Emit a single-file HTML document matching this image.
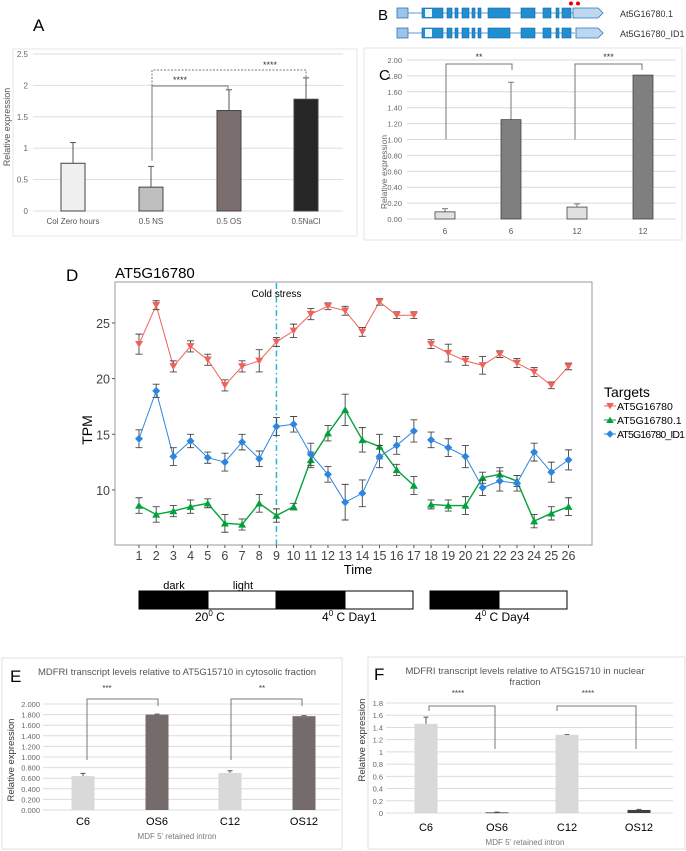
<!DOCTYPE html>
<html><head><meta charset="utf-8">
<style>
html,body{margin:0;padding:0;background:#fff;}
svg{display:block;font-family:"Liberation Sans",sans-serif;}
</style></head>
<body>
<svg id="fig" width="686" height="851" viewBox="0 0 686 851" xmlns="http://www.w3.org/2000/svg">
<g id="pA"></g>
<g id="pB"></g>
<g id="pC"></g>
<g id="pD"></g>
<g id="pE"></g>
<g id="pF"></g>
</svg>
<script>
// ---- Panel A data ----
const aCats = ["Col Zero hours","0.5 NS","0.5 OS","0.5NaCl"];
const aVals = [0.76,0.38,1.6,1.78];
const aErr = [0.33,0.33,0.33,0.34];
const aTicks = [0,0.5,1,1.5,2,2.5];
const aTickLabels = ["0","0.5","1","1.5","2","2.5"];
// ---- Panel C data ----
const cCats = ["6","6","12","12"];
const cVals = [0.09,1.25,0.15,1.81];
const cErr = [0.04,0.47,0.04,0.0];
const cTicks = [0,0.2,0.4,0.6,0.8,1.0,1.2,1.4,1.6,1.8,2.0];
const cTickLabels = ["0.00","0.20","0.40","0.60","0.80","1.00","1.20","1.40","1.60","1.80","2.00"];
// ---- Panel D data ----
const dTimes = [1,2,3,4,5,6,7,8,9,10,11,12,13,14,15,16,17,18,19,20,21,22,23,24,25,26];
const dRed = [23.1,26.6,21.1,22.9,21.7,19.4,21.1,21.6,23.3,24.3,25.8,26.5,26.1,24.2,26.9,25.7,25.7,23.1,22.3,21.6,21.2,22.2,21.4,20.6,19.4,21.1];
const dRedErr = [0.9,0.4,0.5,0.5,0.5,0.5,0.5,1.0,0.4,0.6,0.5,0.3,0.4,0.4,0.3,0.3,0.3,0.4,0.8,0.4,0.8,0.3,0.4,0.4,0.3,0.3];
const dGreen = [8.6,7.8,8.1,8.5,8.8,7.0,6.9,8.8,7.7,8.5,12.7,15.1,17.2,14.5,13.9,11.8,10.4,8.7,8.6,8.6,11.1,11.4,10.8,7.2,7.9,8.5];
const dGreenErr = [0.7,0.7,0.5,0.6,0.4,0.8,0.5,0.8,0.6,0.3,0.7,0.7,1.4,1.1,1.1,0.5,0.8,0.4,0.5,0.8,0.5,0.6,0.5,0.6,0.6,0.8];
const dBlue = [14.6,18.9,13.0,14.4,12.9,12.5,14.3,12.8,15.7,15.9,13.2,11.4,8.9,9.7,13.0,14.0,15.3,14.5,13.8,13.0,10.2,10.8,10.6,13.4,11.6,12.7];
const dBlueErr = [0.8,0.6,0.8,0.6,0.5,0.8,0.7,0.7,0.8,0.7,1.0,0.7,1.6,1.2,1.0,0.8,1.0,0.7,0.8,1.0,0.7,0.9,0.7,0.8,0.9,0.9];
const dYTicks = [10,15,20,25];
const dColdTime = 9;
// ---- Panel E data ----
const eCats = ["C6","OS6","C12","OS12"];
const eVals = [0.64,1.80,0.70,1.77];
const eErr = [0.05,0.01,0.04,0.01];
const eTicks = [0,0.2,0.4,0.6,0.8,1.0,1.2,1.4,1.6,1.8,2.0];
const eTickLabels = ["0.000","0.200","0.400","0.600","0.800","1.000","1.200","1.400","1.600","1.800","2.000"];
// ---- Panel F data ----
const fCats = ["C6","OS6","C12","OS12"];
const fVals = [1.46,0.01,1.28,0.05];
const fErr = [0.11,0.005,0.005,0.01];
const fTicks = [0,0.2,0.4,0.6,0.8,1,1.2,1.4,1.6,1.8];
const fTickLabels = ["0","0.2","0.4","0.6","0.8","1","1.2","1.4","1.6","1.8"];

const NS="http://www.w3.org/2000/svg";
function mk(parent,tag,attrs,text){const e=document.createElementNS(NS,tag);for(const k in attrs)e.setAttribute(k,attrs[k]);if(text!==undefined)e.textContent=text;parent.appendChild(e);return e;}

// ================= Panel A =================
(function(){
const g=document.getElementById('pA');
const y=v=>211-v*62.8;
const xs=[73,151,229,306];
const cols=["#f0f0f0","#bfbfbf","#7a6e6e","#262626"];
let t=mk(g,'text',{x:33,y:31,'font-size':17,fill:'#000'},'A');

let b=mk(g,'rect',{x:13,y:49,width:344,height:187,fill:'none',stroke:'#e4e4e4'});

aTicks.forEach((v,i)=>{
 const l=mk(g,'line',{x1:33,x2:343,y1:y(v),y2:y(v),stroke:'#dedede'});
 
 const tl=mk(g,'text',{x:28,y:y(v)+3,'font-size':8,fill:'#666','text-anchor':'end'},aTickLabels[i]);
 
});
aCats.forEach((c,i)=>{
 const err=mk(g,'line',{x1:xs[i],x2:xs[i],y1:y(aVals[i]),y2:y(aVals[i]+aErr[i]),stroke:'#555'});
 
 mk(g,'line',{x1:xs[i]-3,x2:xs[i]+3,y1:y(aVals[i]+aErr[i]),y2:y(aVals[i]+aErr[i]),stroke:'#555'});
 const r=mk(g,'rect',{x:xs[i]-12,y:y(aVals[i]),width:24,height:y(0)-y(aVals[i]),fill:cols[i],stroke:'#444','stroke-width':1});
 
 const xl=mk(g,'text',{x:xs[i],y:224,'font-size':8,fill:'#555','text-anchor':'middle'},c);
 
});
const yl=mk(g,'text',{x:0,y:0,'font-size':9,fill:'#555','text-anchor':'middle',transform:'translate(10,127) rotate(-90)'},'Relative expression');

const br=mk(g,'path',{d:`M152 ${y(0.8)} V86 H228 V90`,fill:'none',stroke:'#777'});

const s1=mk(g,'text',{x:180,y:83,'font-size':9,fill:'#333','text-anchor':'middle'},'****');

const br2=mk(g,'path',{d:'M152 86 V70 H306 V78',fill:'none',stroke:'#777','stroke-dasharray':'2,1.5'});

const s2=mk(g,'text',{x:270,y:68,'font-size':9,fill:'#333','text-anchor':'middle'},'****');

})();

// ================= Panel B =================
(function(){
const g=document.getElementById('pB');
let t=mk(g,'text',{x:378,y:20,'font-size':15,fill:'#000'},'B');

const exons=[[422,443],[447,452],[455,458],[462,469],[472,475],[478,481],[488,510],[521,535],[543,551],[556,559],[562,571]];
[13,33].forEach((cy,ri)=>{
 const ln=mk(g,'line',{x1:408,x2:575,y1:cy,y2:cy,stroke:'#5b9bd5','stroke-width':1});
 
 const u=mk(g,'rect',{x:397,y:cy-5,width:11,height:10,fill:'#9cc4e8',stroke:'#2e75b6','stroke-width':0.8});
 
 exons.forEach(e=>{const r=mk(g,'rect',{x:e[0],y:cy-5,width:e[1]-e[0],height:10,fill:'#1f8fd0',stroke:'#1565a8','stroke-width':0.6});
  });
 mk(g,'rect',{x:425,y:cy-4,width:7,height:8,fill:'#eef6fc'});
 const u3=mk(g,'path',{d:`M${ri===0?573:576} ${cy-5} H598 L603 ${cy} L598 ${cy+5} H${ri===0?573:576} Z`,fill:'#bcd8f0',stroke:'#2e75b6','stroke-width':0.8});
 
 const lb=mk(g,'text',{x:620,y:cy+4,'font-size':9,fill:'#333'},ri===0?'At5G16780.1':'At5G16780_ID1');
 
});
[571,578].forEach(x=>{const c=mk(g,'circle',{cx:x,cy:3.5,r:2,fill:'#e00'});
 });
})();

// ================= Panel C =================
(function(){
const g=document.getElementById('pC');
const y=v=>219-v*79.5;
const xs=[445,511,577,643];
const cols=["#e0e0e0","#7f7f7f","#e0e0e0","#7f7f7f"];
let b=mk(g,'rect',{x:364,y:48,width:318,height:192,fill:'none',stroke:'#e4e4e4'});

cTicks.forEach((v,i)=>{
 const l=mk(g,'line',{x1:407,x2:676,y1:y(v),y2:y(v),stroke:'#d9d9d9'});
 
 const tl=mk(g,'text',{x:402,y:y(v)+3,'font-size':7.5,fill:'#666','text-anchor':'end'},cTickLabels[i]);
 
});
cCats.forEach((c,i)=>{
 if(cErr[i]>0){const e=mk(g,'line',{x1:xs[i],x2:xs[i],y1:y(cVals[i]),y2:y(cVals[i]+cErr[i]),stroke:'#777'});
 
 mk(g,'line',{x1:xs[i]-3,x2:xs[i]+3,y1:y(cVals[i]+cErr[i]),y2:y(cVals[i]+cErr[i]),stroke:'#777'});}
 const r=mk(g,'rect',{x:xs[i]-10,y:y(cVals[i]),width:20,height:y(0)-y(cVals[i]),fill:cols[i],stroke:'#444','stroke-width':0.8});
 
 const xl=mk(g,'text',{x:xs[i],y:234,'font-size':8,fill:'#555','text-anchor':'middle'},c);
 
});
let t=mk(g,'text',{x:379,y:80,'font-size':15,fill:'#000'},'C');

const yl=mk(g,'text',{x:0,y:0,'font-size':8.5,fill:'#666','text-anchor':'middle',transform:'translate(387,172) rotate(-90)'},'Relative expression');

[[446,512,'**'],[575,642,'***']].forEach(bk=>{
 const p=mk(g,'path',{d:`M${bk[0]} ${y(1)} V64 H${bk[1]} V70`,fill:'none',stroke:'#777'});
 
 const s=mk(g,'text',{x:(bk[0]+bk[1])/2,y:60,'font-size':9,fill:'#333','text-anchor':'middle'},bk[2]);
 
});
})();

// ================= Panel D =================
(function(){
const g=document.getElementById('pD');
const x=t=>139+(t-1)*17.18;
const y=v=>323+(25-v)*11.13;
let t=mk(g,'text',{x:66,y:281,'font-size':17,fill:'#000'},'D');

let ti=mk(g,'text',{x:115,y:278,'font-size':15,fill:'#000'},'AT5G16780');

let fr=mk(g,'rect',{x:115,y:282,width:477,height:263,fill:'#fff',stroke:'#999','stroke-width':1});

dYTicks.forEach(v=>{
 mk(g,'line',{x1:112,x2:115,y1:y(v),y2:y(v),stroke:'#555'});
 const tl=mk(g,'text',{x:110,y:y(v)+5,'font-size':12.5,fill:'#444','text-anchor':'end'},String(v));
 
});
dTimes.forEach(tm=>{
 mk(g,'line',{x1:x(tm),x2:x(tm),y1:545,y2:548,stroke:'#555'});
 const tl=mk(g,'text',{x:x(tm),y:560,'font-size':12.5,fill:'#444','text-anchor':'middle'},String(tm));
 
});
const xt=mk(g,'text',{x:358,y:574,'font-size':13,fill:'#000','text-anchor':'middle'},'Time');

const yt=mk(g,'text',{x:0,y:0,'font-size':14,fill:'#000','text-anchor':'middle',transform:'translate(92,430) rotate(-90)'},'TPM');

const cl=mk(g,'line',{x1:x(dColdTime),x2:x(dColdTime),y1:283,y2:545,stroke:'#29b6cf','stroke-width':1.5,'stroke-dasharray':'6,3,1.5,3'});

const ct=mk(g,'text',{x:x(dColdTime),y:297,'font-size':10,fill:'#000','text-anchor':'middle'},'Cold stress');


const series=[
 {vals:dRed,err:dRedErr,col:'#f0625a',name:'at5g16780',shape:'down'},
 {vals:dGreen,err:dGreenErr,col:'#00a33a',name:'at5g16780-1',shape:'up'},
 {vals:dBlue,err:dBlueErr,col:'#2c86e0',name:'at5g16780-id1',shape:'diamond'}];
function marker(par,shape,cx,cy,col,s){
 let d;
 if(shape==='down')d=`M${cx-s} ${cy-s*0.8} L${cx+s} ${cy-s*0.8} L${cx} ${cy+s*0.9} Z`;
 else if(shape==='up')d=`M${cx-s} ${cy+s*0.8} L${cx+s} ${cy+s*0.8} L${cx} ${cy-s*0.9} Z`;
 else d=`M${cx} ${cy-s} L${cx+s} ${cy} L${cx} ${cy+s} L${cx-s} ${cy} Z`;
 return mk(par,'path',{d:d,fill:col});
}
series.forEach(s=>{
 const sg=mk(g,'g',{});
 
 
 [[0,17],[17,26]].forEach(seg=>{
  let d='';
  for(let i=seg[0];i<seg[1];i++)d+=(i===seg[0]?'M':'L')+x(dTimes[i])+' '+y(s.vals[i]);
  const p=mk(sg,'path',{d:d,fill:'none',stroke:s.col,'stroke-width':s.name==='at5g16780-1'?1.4:1});
  
 });
 s.vals.forEach((v,i)=>{
  const cx=x(dTimes[i]),hi=y(v+s.err[i]),lo=y(v-s.err[i]);
  const e=mk(sg,'path',{d:`M${cx} ${hi} V${lo} M${cx-3.5} ${hi} H${cx+3.5} M${cx-3.5} ${lo} H${cx+3.5}`,stroke:'#444','stroke-width':0.9,fill:'none'});
  
  const m=marker(sg,s.shape,cx,y(v),s.col,4);
  
 });
});
const lg=mk(g,'g',{});

const lt=mk(lg,'text',{x:604,y:397,'font-size':14,fill:'#000'},'Targets');

['AT5G16780','AT5G16780.1','AT5G16780_ID1'].forEach((n,i)=>{
 const ey=406+i*14;
 mk(lg,'line',{x1:604,x2:616,y1:ey,y2:ey,stroke:series[i].col});
 const m=marker(lg,series[i].shape,610,ey,series[i].col,3.8);
 
 const tx=mk(lg,'text',{x:617,y:ey+4,'font-size':10.5,fill:'#000',textLength:i===2?68:undefined},n);
 if(i!==2)tx.removeAttribute('textLength');
 
});
// timeline
const tg=mk(g,'g',{});

[[139,208,'#000'],[208,276,'#fff'],[276,345,'#000'],[345,413,'#fff'],[430,499,'#000'],[499,567,'#fff']].forEach(s=>{
 const r=mk(tg,'rect',{x:s[0],y:591,width:s[1]-s[0],height:18,fill:s[2],stroke:'#000','stroke-width':1});
 
});
const tx1=mk(tg,'text',{x:174,y:589,'font-size':11,'text-anchor':'middle'},'dark');
const tx2=mk(tg,'text',{x:243,y:589,'font-size':11,'text-anchor':'middle'},'light');
[[195,'20','  C'],[322,'4','C  Day1'],[475,'4','C  Day4']].forEach(l=>{
 const tx=mk(tg,'text',{x:l[0],y:621,'font-size':12});
 
 mk(tx,'tspan',{},l[1]);mk(tx,'tspan',{dy:-5,'font-size':8},'0');mk(tx,'tspan',{dy:5},' '+l[2].trim());
});
})();

// ================= Panels E & F =================
function barPanel(gid,cfg){
 const g=document.getElementById(gid);
 const y=v=>cfg.y0-v*cfg.k;
 const b=mk(g,'rect',{x:cfg.box[0],y:cfg.box[1],width:cfg.box[2],height:cfg.box[3],fill:'none',stroke:'#e2e2e2'});
 
 const L=mk(g,'text',{x:cfg.lab[0],y:cfg.lab[1],'font-size':17,fill:'#000'},cfg.letter);
 
 cfg.title.forEach((tl,i)=>{const t=mk(g,'text',{x:cfg.tx,y:cfg.ty+i*11,'font-size':9.5,fill:'#555','text-anchor':'middle'},tl);
  });
 cfg.ticks.forEach((v,i)=>{
  const l=mk(g,'line',{x1:cfg.gx[0],x2:cfg.gx[1],y1:y(v),y2:y(v),stroke:'#dcdcdc'});
  
  const t=mk(g,'text',{x:cfg.gx[0]-3,y:y(v)+3,'font-size':7.5,fill:'#666','text-anchor':'end'},cfg.tickLabels[i]);
  
 });
 cfg.cats.forEach((c,i)=>{
  const cx=cfg.xs[i];
  const e=mk(g,'path',{d:`M${cx} ${y(cfg.vals[i])} V${y(cfg.vals[i]+cfg.err[i])} M${cx-2.5} ${y(cfg.vals[i]+cfg.err[i])} H${cx+2.5}`,stroke:'#555',fill:'none'});
  
  const r=mk(g,'rect',{x:cx-11.5,y:y(cfg.vals[i]),width:23,height:Math.max(0.8,y(0)-y(cfg.vals[i])),fill:cfg.cols[i]});
  
  const t=mk(g,'text',{x:cx,y:cfg.xly,'font-size':11,fill:'#000','text-anchor':'middle'},c);
  
 });
 const xt=mk(g,'text',{x:cfg.tx,y:cfg.xty,'font-size':8,fill:'#777','text-anchor':'middle'},"MDF 5' retained intron");
 
 const yt=mk(g,'text',{x:0,y:0,'font-size':9.5,fill:'#333','text-anchor':'middle',transform:`translate(${cfg.ylab[0]},${cfg.ylab[1]}) rotate(-90)`},'Relative expression');
 
 cfg.brackets.forEach(bk=>{
  const p=mk(g,'path',{d:bk[0],fill:'none',stroke:'#777'});
  
  const s=mk(g,'text',{x:bk[1],y:bk[2],'font-size':8,fill:'#444','text-anchor':'middle'},bk[3]);
  
 });
}
barPanel('pE',{box:[2,658,340,191],lab:[10,682],letter:'E',title:['MDFRI transcript levels relative to AT5G15710 in cytosolic fraction'],tx:177,ty:675,
 y0:810,k:53,ticks:eTicks,tickLabels:eTickLabels,gx:[43,340],cats:eCats,vals:eVals,err:eErr,xs:[83,157,230,304],
 cols:['#d9d9d9','#766b6b','#d9d9d9','#766b6b'],xly:825,xty:839,ylab:[14,760],
 brackets:[['M87 760 V699 H158 V706',107,691,'***'],['M231 760 V699 H302 V706',262,691,'**']]});
barPanel('pF',{box:[368,657,317,192],lab:[374,680],letter:'F',title:['MDFRI transcript levels relative  to AT5G15710 in nuclear','fraction'],tx:525,ty:674,
 y0:813,k:61.1,ticks:fTicks,tickLabels:fTickLabels,gx:[386,673],cats:fCats,vals:fVals,err:fErr,xs:[426,497,567,639],
 cols:['#d9d9d9','#404040','#d9d9d9','#404040'],xly:831,xty:845,ylab:[365,740],
 brackets:[['M429 711 V706 H495 V749',458,696,'****'],['M557 711 V706 H636 V749',588,696,'****']]});
</script>
</body></html>
